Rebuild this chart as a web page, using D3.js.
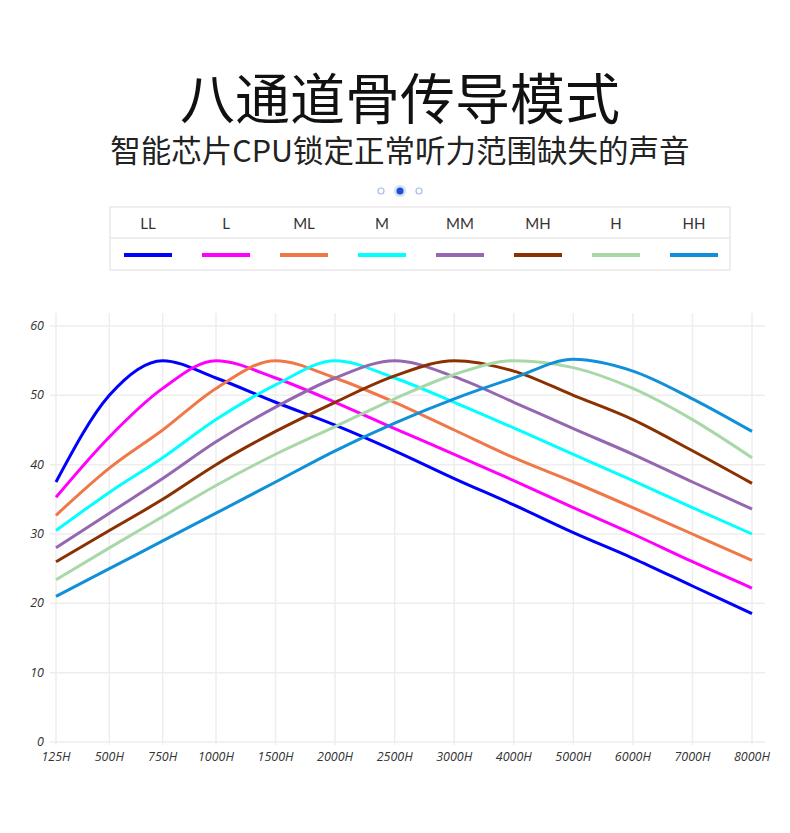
<!DOCTYPE html>
<html><head><meta charset="utf-8">
<script src="https://cdn.jsdelivr.net/npm/d3@7"></script>
<style>body{margin:0;background:#fff}</style>
</head><body>
<svg id="c" width="790" height="833"></svg>
<script>
const categories = ['125H','500H','750H','1000H','1500H','2000H','2500H','3000H','4000H','5000H','6000H','7000H','8000H'];
const seriesNames = ['LL','L','ML','M','MM','MH','H','HH'];
const colors = ['#0000ff','#ff00ff','#f07848','#00ffff','#9467b0','#8b3000','#a8d8a8','#1090d8'];
const LL = [37.5,50,55,52.5,49,45.7,42,38,34.2,30.2,26.5,22.5,18.5];
const L  = [35.3,44,51,55,52.5,49,45.2,41.5,37.7,33.8,30,26,22.2];
const ML = [32.7,39.5,45,51,55,52.5,49,45,41,37.5,33.8,30,26.2];
const M  = [30.5,36,41,46.5,51.5,55,52.5,49,45.3,41.5,37.7,33.8,30];
const MM = [28,33,38,43.3,48.3,52.5,55,52.7,49,45.2,41.5,37.5,33.6];
const MH = [26,30.5,35,40,44.8,49,52.8,55,53.5,50,46.5,42,37.3];
const H  = [23.4,28,32.5,37,41.5,45.5,49.5,53,55,54,51,46.5,41];
const HH = [21,25,29,33,37.5,42,46,49.5,52.5,55.2,53.5,49.5,44.8];
const values = [LL,L,ML,M,MM,MH,H,HH];
const yTicks = [0,10,20,30,40,50,60];

const svg = d3.select('#c');
const font = '"Noto Sans CJK SC","Noto Sans",sans-serif';

svg.append('text').attr('x',400).attr('y',119).attr('text-anchor','middle')
  .attr('font-family',font).attr('font-size',55).attr('fill','#111').text('八通道骨传导模式');
svg.append('text').attr('x',400).attr('y',162).attr('text-anchor','middle')
  .attr('font-family',font).attr('font-size',30.5).attr('fill','#222').text('智能芯片CPU锁定正常听力范围缺失的声音');

// page dots
svg.append('circle').attr('cx',381).attr('cy',191).attr('r',3).attr('fill','none').attr('stroke','#aabbe8').attr('stroke-width',1.2);
svg.append('circle').attr('cx',400).attr('cy',191).attr('r',6).attr('fill','#d6def5');
svg.append('circle').attr('cx',400).attr('cy',191).attr('r',3.5).attr('fill','#1a4fd6');
svg.append('circle').attr('cx',419).attr('cy',191).attr('r',3).attr('fill','none').attr('stroke','#aabbe8').attr('stroke-width',1.2);

// legend
const lg = svg.append('g');
lg.append('rect').attr('x',110).attr('y',207).attr('width',620).attr('height',63)
  .attr('fill','none').attr('stroke','#eee').attr('stroke-width',2);
lg.append('line').attr('x1',110).attr('x2',730).attr('y1',238).attr('y2',238).attr('stroke','#eee').attr('stroke-width',2);
const lx = d3.scalePoint().domain(seriesNames).range([148,694]);
seriesNames.forEach((s,i) => {
  lg.append('text').attr('x',lx(s)).attr('y',229).attr('text-anchor','middle')
    .attr('font-family','Lato,sans-serif').attr('font-size',15).attr('fill','#333').text(s);
  lg.append('rect').attr('x',lx(s)-24).attr('y',253).attr('width',48).attr('height',4).attr('fill',colors[i]);
});

// chart: first three steps are narrower than the rest
const xi = d3.scaleLinear().domain([0,3,12]).range([56,216,752]);
const x = d => xi(categories.indexOf(d));
const y = d3.scaleLinear().domain([0,60]).range([742,326]);
const g = svg.append('g');
g.selectAll('.vg').data(categories).enter().append('line')
  .attr('x1',d=>x(d)).attr('x2',d=>x(d)).attr('y1',313).attr('y2',745)
  .attr('stroke','#eee').attr('stroke-width',1.5);
g.selectAll('.hg').data(yTicks).enter().append('line')
  .attr('x1',50).attr('x2',765).attr('y1',d=>y(d)).attr('y2',d=>y(d))
  .attr('stroke','#eee').attr('stroke-width',1.5);
g.selectAll('.yl').data(yTicks).enter().append('text')
  .attr('x',44).attr('y',d=>y(d)+4).attr('text-anchor','end')
  .attr('font-family','"Open Sans",sans-serif').attr('font-style','italic').attr('font-size',12.5).attr('fill','#333').text(d=>d);
g.selectAll('.xl').data(categories).enter().append('text')
  .attr('x',d=>x(d)).attr('y',761).attr('text-anchor','middle')
  .attr('font-family','"Open Sans",sans-serif').attr('font-style','italic').attr('font-size',12.5).attr('fill','#333').text(d=>d);

const line = d3.line().x((d,i)=>x(categories[i])).y(d=>y(d)).curve(d3.curveMonotoneX);
values.forEach((v,i) => {
  g.append('path').attr('d',line(v)).attr('fill','none').attr('stroke',colors[i]).attr('stroke-width',3);
});
</script>
</body></html>
